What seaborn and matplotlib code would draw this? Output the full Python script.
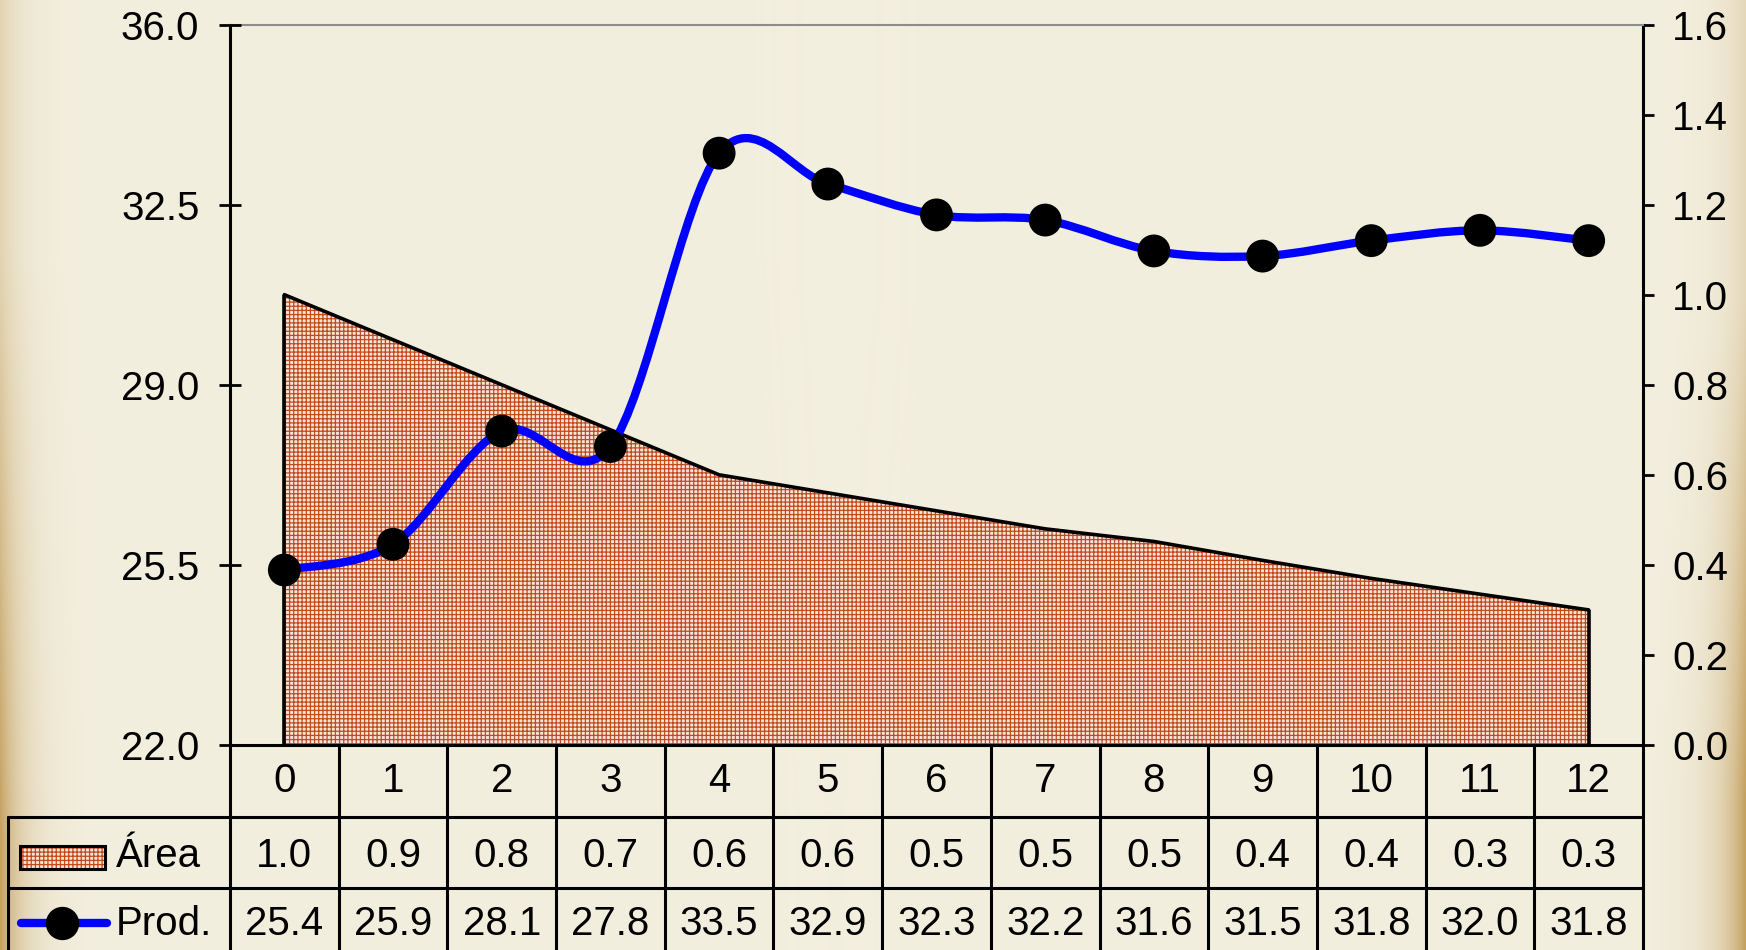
import numpy as np
import pandas as pd
import matplotlib
matplotlib.use("Agg")
import matplotlib.pyplot as plt
import seaborn as sns
from matplotlib.path import Path
from matplotlib.patches import PathPatch, Rectangle
from matplotlib.lines import Line2D

# ---------------- data ----------------
categories = list(range(13))
area = [1.0, 0.9, 0.8, 0.7, 0.6, 0.56, 0.52, 0.48, 0.452, 0.41, 0.37, 0.335, 0.3]
prod = [25.4, 25.9, 28.1, 27.8, 33.5, 32.9, 32.3, 32.2, 31.6, 31.5, 31.8, 32.0, 31.8]
area_label = "Área"
prod_label = "Prod."
left_ticks = [22.0, 25.5, 29.0, 32.5, 36.0]
right_ticks = [0.0, 0.2, 0.4, 0.6, 0.8, 1.0, 1.2, 1.4, 1.6]

df = pd.DataFrame({"cat": categories, "area": area, "prod": prod})

sns.set_theme(style="white")
plt.rcParams["font.family"] = ["Liberation Sans", "DejaVu Sans"]
plt.rcParams["hatch.linewidth"] = 0.9

FS = 29
W, H = 1746, 950
fig = plt.figure(figsize=(W / 100, H / 100), dpi=100)

# ---------------- parchment background ----------------
xx = np.arange(W)[None, :]
yy = np.arange(H)[:, None]
wl = np.exp(-xx / 22.0) * (0.35 + 0.65 * np.clip((yy - 250) / 600, 0, 1))
wr = np.exp(-(W - 1 - xx) / 24.0) * (0.3 + 0.7 * np.clip((yy - 300) / 500, 0, 1))
wgt = np.clip(wl + wr, 0, 1)[..., None]
base = np.array([243, 239, 223]) / 255
edge = np.array([196, 160, 95]) / 255
img = base * (1 - wgt) + edge * wgt
bg = fig.add_axes([0, 0, 1, 1], zorder=-10)
bg.imshow(img, aspect="auto", interpolation="bilinear")
bg.axis("off")

# ---------------- axes ----------------
L, R, T, B = 230, 1643, 24.5, 745
ax = fig.add_axes([L / W, 1 - B / H, (R - L) / W, (B - T) / H])
ax.patch.set_alpha(0)
ax2 = ax.twinx()
ax2.patch.set_alpha(0)

# area (right scale)
hatch_col = "#C24A1C"
face_col = "#F6E6DA"
HATCH = "++++"
ax.fill_between(df["cat"], 0, df["area"], facecolor=face_col, edgecolor=hatch_col,
                linewidth=0, hatch=HATCH, zorder=1)
sns.lineplot(data=df, x="cat", y="area", ax=ax, color="black", linewidth=2.6, zorder=2)
ax.vlines([categories[0], categories[-1]], 0, [area[0], area[-1]], color="black",
          linewidth=2.6, zorder=2)
ax.set_ylim(0, 1.6)
ax.set_xlim(-0.5, 12.5)
ax.set_yticks(right_ticks)
ax.set_yticklabels([f"{v:.1f}" for v in right_ticks], fontsize=FS)
ax.yaxis.tick_right()
ax.tick_params(axis="y", direction="out", length=8, width=2, color="black", pad=13,
               labelcolor="black", right=True, left=False)
ax.set_xticks([])
ax.set_xlabel("")
ax.set_ylabel("")

# production (left scale) with smooth curve
x = np.asarray(categories, float)
y = np.asarray(prod, float)
P = np.column_stack([x, y])
Pp = np.vstack([P[0], P, P[-1]])
verts = [tuple(P[0])]
codes = [Path.MOVETO]
for i in range(len(P) - 1):
    p0, p1, p2, p3 = Pp[i], Pp[i + 1], Pp[i + 2], Pp[i + 3]
    c1 = p1 + (p2 - p0) / 6.0
    c2 = p2 - (p3 - p1) / 6.0
    verts += [tuple(c1), tuple(c2), tuple(p2)]
    codes += [Path.CURVE4] * 3
ax2.add_patch(PathPatch(Path(verts, codes), facecolor="none", edgecolor="#0000FF",
                        linewidth=6, capstyle="round", joinstyle="round", zorder=3))
sns.scatterplot(data=df, x="cat", y="prod", ax=ax2, color="black", s=560,
                edgecolor="none", zorder=4, legend=False)
ax2.set_ylim(22, 36)
ax2.set_xlim(-0.5, 12.5)
ax2.set_yticks(left_ticks)
ax2.set_yticklabels([f"{v:.1f}" for v in left_ticks], fontsize=FS)
ax2.yaxis.tick_left()
ax2.tick_params(axis="y", direction="inout", length=16, width=2, color="black", pad=14,
                labelcolor="black", left=True, right=False)
ax2.set_xticks([])
ax2.set_xlabel("")
ax2.set_ylabel("")

for a in (ax, ax2):
    for s in a.spines.values():
        s.set_visible(False)
for side in ("left", "right", "bottom"):
    ax.spines[side].set_visible(True)
    ax.spines[side].set_color("black")
    ax.spines[side].set_linewidth(2.2)
ax.spines["top"].set_visible(True)
ax.spines["top"].set_color("#8C8C8C")
ax.spines["top"].set_linewidth(1.5)

# ---------------- data table ----------------
def ya(py):
    return (B - py) / (B - T)

def xa(px):
    return (px - L) / (R - L)

tb = ax.get_xaxis_transform()
lw_t = 2.2
row1, row2, row_end = 817, 888, 960
for i in range(len(categories) + 1):
    xv = categories[0] - 0.5 + i
    ax.add_line(Line2D([xv, xv], [ya(B), ya(row_end)], transform=tb, color="black",
                       linewidth=lw_t, clip_on=False))
for yr in (row1, row2):
    ax.add_line(Line2D([xa(8), 1.0], [ya(yr), ya(yr)], transform=ax.transAxes,
                       color="black", linewidth=lw_t, clip_on=False))
ax.add_line(Line2D([xa(8), xa(8)], [ya(row1), ya(row_end)], transform=ax.transAxes,
                   color="black", linewidth=lw_t, clip_on=False))

for c, a_v, p_v in zip(categories, area, prod):
    ax.text(c, ya(781), str(c), transform=tb, ha="center", va="center", fontsize=FS,
            color="black", clip_on=False)
    ax.text(c, ya(856), f"{a_v:.1f}", transform=tb, ha="center", va="center",
            fontsize=FS, color="black", clip_on=False)
    ax.text(c, ya(924), f"{p_v:.1f}", transform=tb, ha="center", va="center",
            fontsize=FS, color="black", clip_on=False)

# legend keys
ax.add_patch(Rectangle((xa(20), ya(869)), xa(105) - xa(20), ya(846) - ya(869),
                       transform=ax.transAxes, facecolor=face_col, edgecolor=hatch_col,
                       linewidth=0, hatch=HATCH, clip_on=False))
ax.add_patch(Rectangle((xa(20), ya(869)), xa(105) - xa(20), ya(846) - ya(869),
                       transform=ax.transAxes, facecolor="none", edgecolor="black",
                       linewidth=2.2, clip_on=False))
ax.text(xa(116), ya(856), area_label, transform=ax.transAxes, ha="left", va="center",
        fontsize=FS, color="black", clip_on=False)
ax.add_line(Line2D([xa(21), xa(107)], [ya(923), ya(923)], transform=ax.transAxes,
                   color="#0000FF", linewidth=6, clip_on=False))
ax.add_line(Line2D([xa(62)], [ya(923)], transform=ax.transAxes, marker="o",
                   markersize=23, color="black", linestyle="none", clip_on=False))
ax.text(xa(116), ya(924), prod_label, transform=ax.transAxes, ha="left", va="center",
        fontsize=FS, color="black", clip_on=False)

fig.savefig("out.png", dpi=100)
